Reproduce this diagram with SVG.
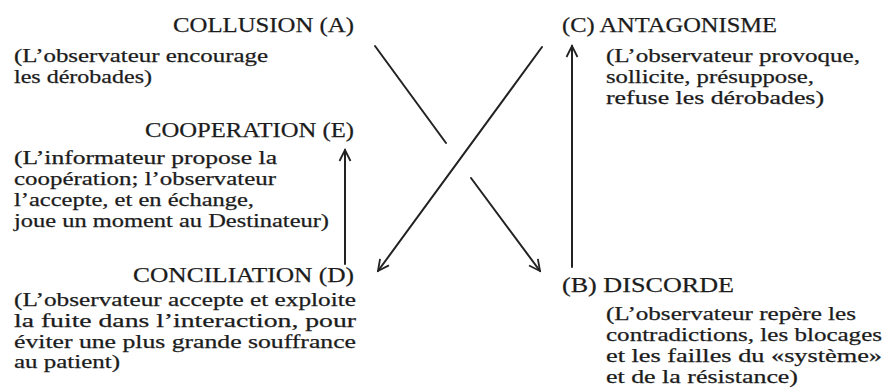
<svg xmlns="http://www.w3.org/2000/svg" width="888" height="390" viewBox="0 0 888 390">
<style>
.h{font-family:"Liberation Serif","Times New Roman",serif;font-size:22px;fill:#1c1c1c;stroke:#1c1c1c;stroke-width:0.25}
.b{font-family:"Liberation Serif","Times New Roman",serif;font-size:19px;fill:#1c1c1c;stroke:#1c1c1c;stroke-width:0.25}
.c{fill:none;stroke:#222;stroke-width:2;stroke-linecap:round}
</style>
<defs>
<marker id="ah" viewBox="-13 -7 15 14" refX="0" refY="0" markerWidth="15" markerHeight="14" markerUnits="userSpaceOnUse" orient="auto">
<path d="M-11,-5.5 L0,0 L-11,5.5" fill="none" stroke="#222" stroke-width="1.8" stroke-linejoin="miter"/>
</marker>
</defs>
<rect width="888" height="390" fill="#fff"/>
<g id="collusion">
<text class="h" x="173" y="32" textLength="181" lengthAdjust="spacingAndGlyphs">COLLUSION (A)</text>
<text class="b" x="14" y="62" textLength="254" lengthAdjust="spacingAndGlyphs">(L’observateur encourage</text>
<text class="b" x="14" y="83" textLength="138" lengthAdjust="spacingAndGlyphs">les dérobades)</text>
</g>
<g id="cooperation">
<text class="h" x="145" y="137" textLength="209" lengthAdjust="spacingAndGlyphs">COOPERATION (E)</text>
<text class="b" x="14" y="164" textLength="263" lengthAdjust="spacingAndGlyphs">(L’informateur propose la</text>
<text class="b" x="14" y="185" textLength="262" lengthAdjust="spacingAndGlyphs">coopération; l’observateur</text>
<text class="b" x="14" y="206" textLength="240" lengthAdjust="spacingAndGlyphs">l’accepte, et en échange,</text>
<text class="b" x="14" y="227" textLength="315" lengthAdjust="spacingAndGlyphs">joue un moment au Destinateur)</text>
</g>
<g id="conciliation">
<text class="h" x="133" y="282" textLength="221" lengthAdjust="spacingAndGlyphs">CONCILIATION (D)</text>
<text class="b" x="14" y="306" textLength="342" lengthAdjust="spacingAndGlyphs">(L’observateur accepte et exploite</text>
<text class="b" x="14" y="327" textLength="342" lengthAdjust="spacingAndGlyphs">la fuite dans l’interaction, pour</text>
<text class="b" x="14" y="348" textLength="342" lengthAdjust="spacingAndGlyphs">éviter une plus grande souffrance</text>
<text class="b" x="14" y="368" textLength="106" lengthAdjust="spacingAndGlyphs">au patient)</text>
</g>
<g id="antagonisme">
<text class="h" x="562" y="32" textLength="215" lengthAdjust="spacingAndGlyphs">(C) ANTAGONISME</text>
<text class="b" x="606" y="62" textLength="254" lengthAdjust="spacingAndGlyphs">(L’observateur provoque,</text>
<text class="b" x="606" y="83" textLength="208" lengthAdjust="spacingAndGlyphs">sollicite, présuppose,</text>
<text class="b" x="606" y="104" textLength="218" lengthAdjust="spacingAndGlyphs">refuse les dérobades)</text>
</g>
<g id="discorde">
<text class="h" x="562" y="292" textLength="172" lengthAdjust="spacingAndGlyphs">(B) DISCORDE</text>
<text class="b" x="606" y="320" textLength="250" lengthAdjust="spacingAndGlyphs">(L’observateur repère les</text>
<text class="b" x="606" y="341" textLength="276" lengthAdjust="spacingAndGlyphs">contradictions, les blocages</text>
<text class="b" x="606" y="362" textLength="276" lengthAdjust="spacingAndGlyphs">et les failles du «système»</text>
<text class="b" x="606" y="383" textLength="192" lengthAdjust="spacingAndGlyphs">et de la résistance)</text>
</g>
<g id="connectors">
<line class="c" x1="375" y1="46" x2="446" y2="143"/>
<line class="c" x1="471" y1="178" x2="540" y2="271" marker-end="url(#ah)"/>
<line class="c" x1="542" y1="47" x2="378" y2="271" marker-end="url(#ah)"/>
<line class="c" x1="572" y1="267" x2="572" y2="46" marker-end="url(#ah)"/>
<line class="c" x1="345" y1="264" x2="345" y2="150" marker-end="url(#ah)"/>
</g>
</svg>
